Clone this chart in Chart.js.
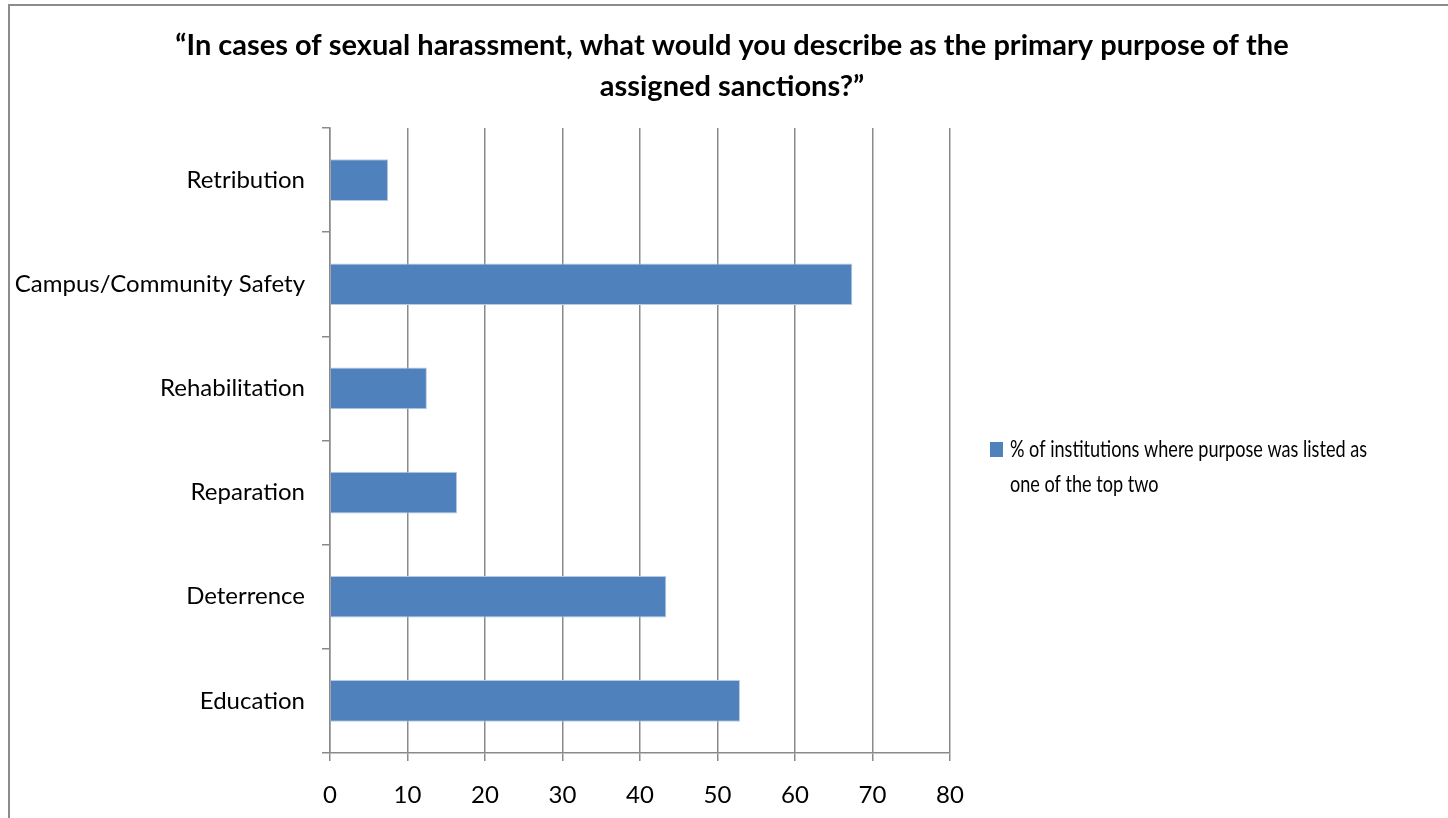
<!DOCTYPE html>
<html>
<head>
<meta charset="utf-8">
<script src="https://cdn.jsdelivr.net/npm/chart.js@4.4.1/dist/chart.umd.min.js"></script>
<style>
html, body { margin: 0; padding: 0; background: #fff; }
#wrap { width: 1448px; height: 818px; }
</style>
</head>
<body>
<div id="wrap"><canvas id="purposeChart" width="1448" height="818"></canvas></div>
<script>
// data
var purposes = ['Retribution', 'Campus/Community Safety', 'Rehabilitation', 'Reparation', 'Deterrence', 'Education'];
var pctTopTwo = [7.5, 67.4, 12.5, 16.4, 43.4, 52.9];
var xTicks = [0, 10, 20, 30, 40, 50, 60, 70, 80];
var seriesName = '% of institutions where purpose was listed as one of the top two';
var titleLines = ['\u201cIn cases of sexual harassment, what would you describe as the primary purpose of the', 'assigned sanctions?\u201d'];

var gridGray = '#8a8a8a';
var barBlue = '#4F81BD';

// white page + grey frame round the chart
var framePlugin = {
	id: 'frame',
	beforeDraw: function(chart){
		var ctx = chart.ctx;
		ctx.save();
		ctx.fillStyle = '#fff';
		ctx.fillRect(0, 0, chart.width, chart.height);
		ctx.strokeStyle = '#8c8c8c';
		ctx.lineWidth = 2;
		ctx.beginPath();
		ctx.moveTo(9, chart.height + 5);
		ctx.lineTo(9, 5);
		ctx.lineTo(chart.width + 5, 5);
		ctx.stroke();
		ctx.restore();
	}
};

// title centred over the whole frame, not just the plot
var titlePlugin = {
	id: 'bigTitle',
	afterDraw: function(chart){
		var ctx = chart.ctx;
		ctx.save();
		ctx.font = 'bold 29px Lato';
		ctx.fillStyle = '#000';
		ctx.textAlign = 'center';
		ctx.textBaseline = 'alphabetic';
		for(var i = 0; i < titleLines.length; i++){
			ctx.fillText(titleLines[i], 732, 55 + i * 41);
		}
		ctx.restore();
	}
};

// legend on the right, wrapped on two lines
var sideLegend = {
	id: 'sideLegend',
	afterDraw: function(chart){
		var ctx = chart.ctx;
		var ds = chart.data.datasets[0];
		var words = ds.label.split(' ');
		var lines = [words.slice(0, 8).join(' '), words.slice(8).join(' ')];
		ctx.save();
		ctx.fillStyle = ds.backgroundColor;
		ctx.fillRect(990, 442, 13, 15);
		ctx.font = '24px Lato';
		var squeeze = 357 / ctx.measureText(lines[0]).width;
		ctx.translate(1010, 0);
		ctx.scale(squeeze, 1);
		ctx.fillStyle = '#000';
		ctx.textBaseline = 'alphabetic';
		for(var j = 0; j < lines.length; j++){
			ctx.fillText(lines[j], 0, 457 + j * 35);
		}
		ctx.restore();
	}
};

var ctx = document.getElementById('purposeChart').getContext('2d');
var chart = new Chart(ctx, {
	type: 'bar',
	data: {
		labels: purposes,
		datasets: [{
			label: seriesName,
			data: pctTopTwo,
			backgroundColor: barBlue,
			borderColor: '#b9cbe4',
			borderWidth: 1,
			categoryPercentage: 1,
			barPercentage: 0.4
		}]
	},
	options: {
		indexAxis: 'y',
		responsive: false,
		animation: false,
		layout: { padding: { left: 0, right: 498, top: 128, bottom: 0 } },
		plugins: {
			legend: { display: false },
			tooltip: { enabled: false },
			title: { display: false }
		},
		scales: {
			x: {
				min: 0,
				max: 80,
				afterFit: function(scale){ scale.height = 65; },
				afterBuildTicks: function(scale){
					scale.ticks = xTicks.map(function(v){ return { value: v }; });
				},
				grid: { color: gridGray, lineWidth: 1.5, tickLength: 8, drawTicks: true },
				border: { color: gridGray, width: 1.5 },
				ticks: { color: '#000', font: { family: 'Lato', size: 24 }, padding: 20 }
			},
			y: {
				afterFit: function(scale){ scale.width = 330; },
				grid: { drawOnChartArea: false, color: gridGray, lineWidth: 1.5, tickLength: 8, offset: true },
				border: { color: gridGray, width: 1.5 },
				ticks: { color: '#000', font: { family: 'Lato', size: 24 }, padding: 17 }
			}
		}
	},
	plugins: [framePlugin, titlePlugin, sideLegend]
});
</script>
</body>
</html>
